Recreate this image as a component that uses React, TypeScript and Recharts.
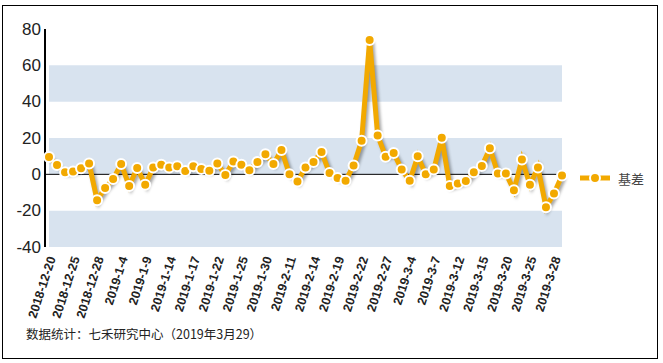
import { LineChart, Line, XAxis, YAxis, ReferenceArea, ReferenceLine } from 'recharts';

const dates = [
    '2018-12-20', '2018-12-21', '2018-12-24', '2018-12-25', '2018-12-26', '2018-12-27', '2018-12-28',
    '2019-1-2', '2019-1-3', '2019-1-4', '2019-1-7', '2019-1-8', '2019-1-9', '2019-1-10', '2019-1-11',
    '2019-1-14', '2019-1-15', '2019-1-16', '2019-1-17', '2019-1-18', '2019-1-21', '2019-1-22', '2019-1-23',
    '2019-1-24', '2019-1-25', '2019-1-28', '2019-1-29', '2019-1-30', '2019-1-31', '2019-2-1',
    '2019-2-11', '2019-2-12', '2019-2-13', '2019-2-14', '2019-2-15', '2019-2-18', '2019-2-19', '2019-2-20',
    '2019-2-21', '2019-2-22', '2019-2-25', '2019-2-26', '2019-2-27', '2019-2-28',
    '2019-3-1', '2019-3-4', '2019-3-5', '2019-3-6', '2019-3-7', '2019-3-8', '2019-3-11', '2019-3-12',
    '2019-3-13', '2019-3-14', '2019-3-15', '2019-3-18', '2019-3-19', '2019-3-20', '2019-3-21', '2019-3-22',
    '2019-3-25', '2019-3-26', '2019-3-27', '2019-3-28', '2019-3-29',
];

const basis = [
    9.5, 5.1, 1.1, 1.6, 3.3, 5.9, -14.3, -7.5, -2.6, 5.7, -6.4, 3.5, -5.7, 3.7, 5.3,
    3.7, 4.4, 1.8, 4.4, 2.9, 2.0, 5.9, -0.4, 7.1, 5.3, 2.2, 6.8, 11.0, 5.7, 13.4,
    0, -4.0, 3.8, 6.8, 12.3, 0.7, -2.0, -3.5, 4.9, 18.5, 74.0, 21.4, 9.7, 11.7,
    2.7, -3.5, 9.9, 0, 2.6, 20.1, -6.4, -5.1, -3.7, 1.1, 4.6, 14.3, 0.5, 0.5, -8.8,
    8.2, -5.7, 3.8, -18.1, -10.6, -0.7,
];

const yTicks = [-40, -20, 0, 20, 40, 60, 80];
const bands = [[-40, -20], [0, 20], [40, 60]];

const data = dates.map((d, i) => ({ date: d, basis: basis[i] }));

const ORANGE = '#f2a900';
const SANS = "'Liberation Sans', Arial, sans-serif";

function DateTick(props: any) {
    const { x, y, payload } = props;
    return (
        <g transform={`translate(${x + 3},${y + 2})`}>
            <text
                transform="rotate(-72)"
                textAnchor="end"
                dominantBaseline="central"
                fontSize={12.5}
                fontWeight="bold"
                fontFamily={SANS}
                fill="#222"
            >
                {payload.value}
            </text>
        </g>
    );
}

function ValueTick(props: any) {
    const { x, y, payload } = props;
    return (
        <text x={x} y={y} textAnchor="end" dominantBaseline="central" fontSize={17} fontFamily={SANS} fill="#222">
            {payload.value}
        </text>
    );
}

export default function App() {
    return (
        <div style={{ position: 'absolute', left: 0, top: 0, width: 663, height: 363, background: '#fff' }}>
            <style>{`.basis-line .recharts-line-curve { filter: drop-shadow(2px 2px 1.5px rgba(0,0,0,0.35)); }`}</style>
            <div style={{ position: 'absolute', left: 2, top: 5, width: 654, height: 352, border: '1px solid #000' }} />
            <LineChart
                width={663}
                height={363}
                data={data}
                margin={{ top: 29, right: 97, bottom: 36, left: 0 }}
                style={{ position: 'absolute', left: 0, top: 0 }}
            >
                {bands.map(([a, b]) => (
                    <ReferenceArea key={a} y1={a} y2={b} fill="#d8e3ef" fillOpacity={1} stroke="none" ifOverflow="visible" />
                ))}
                <ReferenceLine y={0} stroke="#000" strokeWidth={1} />
                <XAxis
                    dataKey="date"
                    interval={2}
                    height={80}
                    axisLine={false}
                    tickLine={false}
                    padding={{ left: 4, right: 4 }}
                    tick={<DateTick />}
                />
                <YAxis
                    domain={[-40, 80]}
                    ticks={yTicks}
                    width={45}
                    tickLine={false}
                    tickSize={3}
                    tickMargin={1}
                    axisLine={{ stroke: '#000', strokeWidth: 2 }}
                    tick={<ValueTick />}
                />
                <Line
                    className="basis-line"
                    dataKey="basis"
                    type="linear"
                    stroke={ORANGE}
                    strokeWidth={5}
                    dot={{ r: 5, fill: ORANGE, stroke: '#fff', strokeWidth: 2 }}
                    isAnimationActive={false}
                />
            </LineChart>
            <svg style={{ position: 'absolute', left: 578, top: 170 }} width={40} height={16}>
                <line x1={2} y1={8} x2={32} y2={8} stroke={ORANGE} strokeWidth={5} />
                <circle cx={17} cy={8} r={5} fill={ORANGE} stroke="#fff" strokeWidth={2} />
            </svg>
            <div style={{ position: 'absolute', left: 618, top: 169, fontSize: 13, color: '#444', fontFamily: "'Noto Sans CJK SC', sans-serif" }}>
                基差
            </div>
            <div style={{ position: 'absolute', left: 26, top: 324, fontSize: 12.5, color: '#222', fontFamily: "'Noto Sans CJK SC', sans-serif" }}>
                数据统计：七禾研究中心（2019年3月29）
            </div>
        </div>
    );
}
